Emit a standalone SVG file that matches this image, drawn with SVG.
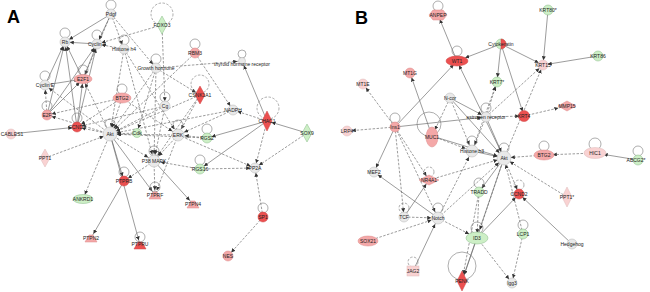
<svg xmlns="http://www.w3.org/2000/svg" width="650" height="292" viewBox="0 0 650 292">
<style>
.s{stroke:#666;stroke-width:.65;fill:none}
.d{stroke:#666;stroke-width:.65;fill:none;stroke-dasharray:2.5 1.5}
.lp{fill:none;stroke:#777;stroke-width:.6}
.lpd{fill:none;stroke:#777;stroke-width:.6;stroke-dasharray:2.5 1.5}
.g{fill:#e9e9e9;stroke:#b5b5b5;stroke-width:.5}
.p{fill:#f4a8a8;stroke:#d88;stroke-width:.5}
.lk{fill:#f9d2d2;stroke:#dbb;stroke-width:.5}
.r{fill:#ec5050;stroke:#c44;stroke-width:.5}
.gr{fill:#cdefc6;stroke:#8b8;stroke-width:.5}
text{font-family:"Liberation Sans",Arial,sans-serif;font-size:5px;fill:#222;text-anchor:middle}
.big{font-size:18px;font-weight:bold;text-anchor:start;fill:#000}
</style>
<defs>
<marker id="ar" viewBox="0 0 10 10" refX="22" refY="5" markerWidth="4" markerHeight="4" markerUnits="userSpaceOnUse" orient="auto"><path d="M0,0L10,5L0,10z" fill="#333"/></marker>
<marker id="arb" viewBox="0 0 10 10" refX="27" refY="5" markerWidth="4" markerHeight="4" markerUnits="userSpaceOnUse" orient="auto"><path d="M0,0L10,5L0,10z" fill="#333"/></marker>
<marker id="arw" viewBox="0 0 10 10" refX="32" refY="5" markerWidth="4" markerHeight="4" markerUnits="userSpaceOnUse" orient="auto"><path d="M0,0L10,5L0,10z" fill="#333"/></marker>
</defs>
<rect width="650" height="292" fill="#fff"/>
<text class="big" x="7" y="23">A</text>
<text class="big" x="355" y="24">B</text>
<g id="connectors">
<line class="s" x1="111" y1="14" x2="65" y2="42" marker-end="url(#ar)"/>
<line class="d" x1="111" y1="14" x2="124" y2="49" marker-end="url(#ar)"/>
<line class="d" x1="111" y1="14" x2="156" y2="68" marker-end="url(#ar)"/>
<line class="d" x1="111" y1="14" x2="83" y2="79" marker-end="url(#ar)"/>
<line class="s" x1="111" y1="14" x2="97" y2="44" marker-end="url(#ar)"/>
<line class="d" x1="162" y1="25" x2="97" y2="44" marker-end="url(#ar)"/>
<line class="d" x1="162" y1="25" x2="165" y2="106" marker-end="url(#ar)"/>
<line class="s" x1="97" y1="44" x2="65" y2="42" marker-end="url(#ar)"/>
<line class="d" x1="124" y1="49" x2="97" y2="44" marker-end="url(#ar)"/>
<line class="d" x1="124" y1="49" x2="110" y2="134" marker-end="url(#arb)"/>
<line class="d" x1="124" y1="49" x2="154" y2="161" marker-end="url(#arb)"/>
<line class="d" x1="124" y1="49" x2="178" y2="135" marker-end="url(#arb)"/>
<line class="d" x1="156" y1="68" x2="110" y2="134" marker-end="url(#arb)"/>
<line class="d" x1="156" y1="68" x2="242" y2="61" marker-end="url(#ar)"/>
<line class="d" x1="156" y1="68" x2="154" y2="161" marker-end="url(#arb)"/>
<line class="d" x1="156" y1="68" x2="200" y2="95" marker-end="url(#ar)"/>
<line class="d" x1="156" y1="68" x2="137" y2="133" marker-end="url(#ar)"/>
<line class="d" x1="195" y1="53" x2="233" y2="110" marker-end="url(#ar)"/>
<line class="d" x1="195" y1="53" x2="110" y2="134" marker-end="url(#arb)"/>
<line class="s" x1="83" y1="79" x2="65" y2="42" marker-end="url(#ar)"/>
<line class="s" x1="83" y1="79" x2="97" y2="44" marker-end="url(#ar)"/>
<line class="s" x1="45" y1="85" x2="65" y2="42" marker-end="url(#ar)"/>
<line class="s" x1="45" y1="85" x2="83" y2="79" marker-end="url(#ar)"/>
<line class="s" x1="47" y1="115" x2="65" y2="42" marker-end="url(#ar)"/>
<line class="s" x1="47" y1="115" x2="97" y2="44" marker-end="url(#ar)"/>
<line class="d" x1="47" y1="115" x2="45" y2="85" marker-end="url(#ar)"/>
<line class="s" x1="77" y1="127" x2="65" y2="42" marker-end="url(#ar)"/>
<line class="s" x1="77" y1="127" x2="97" y2="44" marker-end="url(#ar)"/>
<line class="s" x1="77" y1="127" x2="83" y2="79" marker-end="url(#ar)"/>
<line class="s" x1="47" y1="115" x2="83" y2="79" marker-end="url(#ar)"/>
<line class="s" x1="11" y1="134" x2="77" y2="127" marker-end="url(#ar)"/>
<line class="d" x1="110" y1="134" x2="77" y2="127" marker-end="url(#ar)"/>
<line class="d" x1="110" y1="134" x2="47" y2="115" marker-end="url(#ar)"/>
<line class="d" x1="110" y1="134" x2="83" y2="79" marker-end="url(#ar)"/>
<line class="d" x1="110" y1="134" x2="45" y2="85" marker-end="url(#ar)"/>
<line class="d" x1="122" y1="98" x2="110" y2="134" marker-end="url(#arb)"/>
<line class="d" x1="122" y1="98" x2="47" y2="115" marker-end="url(#ar)"/>
<line class="d" x1="122" y1="98" x2="77" y2="127" marker-end="url(#ar)"/>
<line class="d" x1="122" y1="98" x2="178" y2="135" marker-end="url(#arb)"/>
<line class="d" x1="165" y1="106" x2="110" y2="134" marker-end="url(#arb)"/>
<line class="d" x1="165" y1="106" x2="77" y2="127" marker-end="url(#ar)"/>
<line class="d" x1="165" y1="106" x2="154" y2="161" marker-end="url(#arb)"/>
<line class="d" x1="200" y1="95" x2="110" y2="134" marker-end="url(#arb)"/>
<line class="d" x1="200" y1="95" x2="178" y2="135" marker-end="url(#arb)"/>
<line class="d" x1="200" y1="95" x2="154" y2="161" marker-end="url(#arb)"/>
<line class="d" x1="233" y1="110" x2="110" y2="134" marker-end="url(#arb)"/>
<line class="d" x1="233" y1="110" x2="178" y2="135" marker-end="url(#arb)"/>
<line class="s" x1="267" y1="121" x2="242" y2="61" marker-end="url(#ar)"/>
<line class="d" x1="267" y1="121" x2="233" y2="110" marker-end="url(#ar)"/>
<line class="s" x1="307" y1="133" x2="267" y2="121" marker-end="url(#ar)"/>
<line class="s" x1="267" y1="121" x2="207" y2="138" marker-end="url(#ar)"/>
<line class="s" x1="267" y1="121" x2="200" y2="169" marker-end="url(#ar)"/>
<line class="d" x1="307" y1="133" x2="255" y2="168" marker-end="url(#ar)"/>
<line class="d" x1="267" y1="121" x2="255" y2="168" marker-end="url(#ar)"/>
<line class="d" x1="263" y1="217" x2="255" y2="168" marker-end="url(#ar)"/>
<line class="d" x1="263" y1="217" x2="228" y2="256" marker-end="url(#ar)"/>
<line class="d" x1="200" y1="169" x2="255" y2="168" marker-end="url(#ar)"/>
<line class="d" x1="178" y1="135" x2="255" y2="168" marker-end="url(#ar)"/>
<line class="d" x1="178" y1="135" x2="110" y2="134" marker-end="url(#arb)"/>
<line class="d" x1="137" y1="133" x2="110" y2="134" marker-end="url(#arb)"/>
<line class="d" x1="178" y1="135" x2="154" y2="161" marker-end="url(#arb)"/>
<line class="d" x1="110" y1="134" x2="154" y2="161" marker-end="url(#arb)"/>
<line class="d" x1="154" y1="161" x2="124" y2="181" marker-end="url(#ar)"/>
<line class="s" x1="110" y1="134" x2="124" y2="181" marker-end="url(#ar)"/>
<line class="s" x1="110" y1="134" x2="140" y2="245" marker-end="url(#ar)"/>
<line class="s" x1="124" y1="181" x2="91" y2="238" marker-end="url(#ar)"/>
<line class="s" x1="154" y1="161" x2="193" y2="204" marker-end="url(#ar)"/>
<line class="d" x1="178" y1="135" x2="155" y2="195" marker-end="url(#ar)"/>
<line class="d" x1="154" y1="161" x2="155" y2="195" marker-end="url(#ar)"/>
<line class="s" x1="110" y1="134" x2="155" y2="195" marker-end="url(#ar)"/>
<line class="d" x1="110" y1="134" x2="83" y2="199" marker-end="url(#ar)"/>
<line class="d" x1="45" y1="158" x2="110" y2="134" marker-end="url(#arb)"/>
<line class="d" x1="207" y1="138" x2="178" y2="135" marker-end="url(#arb)"/>
<line class="d" x1="200" y1="169" x2="154" y2="161" marker-end="url(#arb)"/>
<line class="d" x1="207" y1="138" x2="110" y2="134" marker-end="url(#arb)"/>
<line class="s" x1="457" y1="61" x2="438" y2="15" marker-end="url(#ar)"/>
<line class="s" x1="501" y1="44" x2="457" y2="61" marker-end="url(#arw)"/>
<line class="s" x1="501" y1="44" x2="497" y2="82" marker-end="url(#ar)"/>
<line class="s" x1="501" y1="44" x2="543" y2="65" marker-end="url(#ar)"/>
<line class="s" x1="501" y1="44" x2="524" y2="116" marker-end="url(#ar)"/>
<line class="s" x1="548" y1="10" x2="543" y2="65" marker-end="url(#ar)"/>
<line class="s" x1="598" y1="56" x2="543" y2="65" marker-end="url(#ar)"/>
<line class="s" x1="395" y1="127" x2="457" y2="61" marker-end="url(#ar)"/>
<line class="d" x1="395" y1="127" x2="363" y2="84" marker-end="url(#ar)"/>
<line class="d" x1="395" y1="127" x2="347" y2="131" marker-end="url(#ar)"/>
<line class="s" x1="432" y1="136" x2="410" y2="73" marker-end="url(#ar)"/>
<line class="s" x1="395" y1="127" x2="486" y2="117" marker-end="url(#ar)"/>
<line class="s" x1="504" y1="158" x2="457" y2="61" marker-end="url(#ar)"/>
<line class="s" x1="450" y1="98" x2="486" y2="117" marker-end="url(#ar)"/>
<line class="d" x1="450" y1="98" x2="472" y2="151" marker-end="url(#arb)"/>
<line class="s" x1="450" y1="98" x2="504" y2="158" marker-end="url(#arb)"/>
<line class="d" x1="486" y1="117" x2="524" y2="116" marker-end="url(#ar)"/>
<line class="d" x1="486" y1="117" x2="543" y2="65" marker-end="url(#ar)"/>
<line class="d" x1="486" y1="117" x2="497" y2="82" marker-end="url(#ar)"/>
<line class="d" x1="524" y1="116" x2="567" y2="106" marker-end="url(#arw)"/>
<line class="d" x1="504" y1="158" x2="543" y2="65" marker-end="url(#ar)"/>
<line class="d" x1="472" y1="151" x2="497" y2="82" marker-end="url(#ar)"/>
<line class="d" x1="544" y1="155" x2="504" y2="158" marker-end="url(#arb)"/>
<line class="d" x1="595" y1="153" x2="544" y2="155" marker-end="url(#arw)"/>
<line class="s" x1="638" y1="160" x2="595" y2="153" marker-end="url(#arw)"/>
<line class="d" x1="567" y1="197" x2="504" y2="158" marker-end="url(#arb)"/>
<line class="s" x1="572" y1="244" x2="519" y2="194" marker-end="url(#ar)"/>
<line class="d" x1="504" y1="158" x2="519" y2="194" marker-end="url(#ar)"/>
<line class="d" x1="523" y1="234" x2="512" y2="283" marker-end="url(#ar)"/>
<line class="d" x1="523" y1="234" x2="504" y2="158" marker-end="url(#arb)"/>
<line class="s" x1="477" y1="238" x2="519" y2="194" marker-end="url(#ar)"/>
<line class="d" x1="477" y1="238" x2="512" y2="283" marker-end="url(#ar)"/>
<line class="s" x1="504" y1="158" x2="479" y2="192" marker-end="url(#ar)"/>
<line class="d" x1="479" y1="192" x2="477" y2="238" marker-end="url(#ar)"/>
<line class="d" x1="479" y1="192" x2="462" y2="281" marker-end="url(#arb)"/>
<line class="s" x1="477" y1="238" x2="462" y2="281" marker-end="url(#arb)"/>
<line class="d" x1="438" y1="218" x2="477" y2="238" marker-end="url(#arw)"/>
<line class="d" x1="438" y1="218" x2="472" y2="151" marker-end="url(#arb)"/>
<line class="d" x1="404" y1="217" x2="438" y2="218" marker-end="url(#arb)"/>
<line class="d" x1="368" y1="241" x2="438" y2="218" marker-end="url(#arb)"/>
<line class="s" x1="413" y1="271" x2="438" y2="218" marker-end="url(#arb)"/>
<line class="s" x1="438" y1="218" x2="374" y2="172" marker-end="url(#ar)"/>
<line class="s" x1="404" y1="217" x2="429" y2="180" marker-end="url(#ar)"/>
<line class="d" x1="429" y1="180" x2="504" y2="158" marker-end="url(#arb)"/>
<line class="d" x1="395" y1="127" x2="404" y2="217" marker-end="url(#ar)"/>
<line class="d" x1="395" y1="127" x2="438" y2="218" marker-end="url(#arb)"/>
<line class="s" x1="395" y1="127" x2="374" y2="172" marker-end="url(#ar)"/>
<line class="d" x1="395" y1="127" x2="429" y2="180" marker-end="url(#ar)"/>
<line class="d" x1="432" y1="136" x2="472" y2="151" marker-end="url(#arb)"/>
<line class="s" x1="432" y1="136" x2="504" y2="158" marker-end="url(#arb)"/>
<line class="d" x1="450" y1="98" x2="432" y2="136" marker-end="url(#arb)"/>
<line class="s" x1="472" y1="151" x2="504" y2="158" marker-end="url(#arb)"/>
<line class="s" x1="486" y1="117" x2="504" y2="158" marker-end="url(#arb)"/>
<line class="d" x1="438" y1="218" x2="504" y2="158" marker-end="url(#arb)"/>
<line class="d" x1="486" y1="117" x2="472" y2="151" marker-end="url(#arb)"/>
<line class="s" x1="504" y1="158" x2="462" y2="281" marker-end="url(#arb)"/>
<line class="d" x1="504" y1="158" x2="477" y2="238" marker-end="url(#arw)"/>
</g>
<g id="a_top"><circle class="lp" cx="111" cy="5" r="5"/><circle class="g" cx="111" cy="14" r="5"/><text x="111" y="15.8">Pdgf</text></g>
<g id="a_rb"><circle class="lp" cx="65" cy="33" r="5"/><circle class="g" cx="65" cy="42" r="5"/><text x="65" y="43.8">Rb</text></g>
<g id="a_cyca"><circle class="lp" cx="97" cy="35" r="5"/><circle class="g" cx="97" cy="44" r="5"/><text x="97" y="45.8">Cyclin A</text></g>
<g id="a_h4"><circle class="lp" cx="124" cy="40" r="5"/><circle class="g" cx="124" cy="49" r="5"/><text x="124" y="50.8">Histone h4</text></g>
<g id="a_foxo"><circle class="lpd" cx="162" cy="14" r="11"/><polygon class="gr" points="162,16 167,25 162,34 157,25"/><text x="162" y="26.8">FOXO3</text></g>
<g id="a_gh"><circle class="lp" cx="156" cy="59" r="5"/><circle class="g" cx="156" cy="68" r="5"/><text x="156" y="69.8">Growth hormone</text></g>
<g id="a_rbm"><circle class="lp" cx="195" cy="44" r="5"/><circle class="p" cx="195" cy="53" r="5"/><text x="195" y="54.8">RBM3</text></g>
<g id="a_thr"><circle class="lp" cx="242" cy="54" r="4"/><circle class="g" cx="242" cy="61" r="3.5"/><text x="242" y="65.5">thyroid hormone receptor</text></g>
<g id="a_e2f1"><circle class="lp" cx="83" cy="70" r="5"/><ellipse class="p" cx="83" cy="79" rx="9" ry="4.5"/><text x="83" y="80.8">E2F1</text></g>
<g id="a_cyce"><circle class="lp" cx="45" cy="76" r="5"/><circle class="g" cx="45" cy="85" r="5"/><text x="45" y="86.8">Cyclin E</text></g>
<g id="a_e2f"><circle class="lp" cx="47" cy="106" r="5"/><circle class="p" cx="47" cy="115" r="5"/><text x="47" y="116.8">E2F</text></g>
<g id="a_btg2"><circle class="lp" cx="122" cy="89" r="5"/><ellipse class="p" cx="122" cy="98" rx="9" ry="5"/><text x="122" y="99.8">BTG2</text></g>
<g id="a_ccnd1"><circle class="lp" cx="77" cy="118" r="5"/><circle class="r" cx="77" cy="127" r="5"/><text x="77" y="128.8">CCND1</text></g>
<g id="a_cables"><circle class="lk" cx="11" cy="134" r="5"/><text x="12" y="135.8">CABLES1</text></g>
<g id="a_akt"><circle class="lp" cx="110" cy="124" r="5"/><circle class="g" cx="110" cy="134" r="7"/><text x="110" y="135.8">Akt</text></g>
<g id="a_green1"><circle class="gr" cx="137" cy="133" r="4.5"/><text x="137" y="134.8">Cdk</text></g>
<g id="a_cg"><circle class="lp" cx="165" cy="97" r="5"/><circle class="g" cx="165" cy="106" r="5"/><text x="165" y="107.8">Cg</text></g>
<g id="a_cdk"><circle class="lpd" cx="200" cy="84" r="9"/><polygon class="r" points="200,86 205,95 200,104 195,95"/><text x="200" y="96.8">CSNK1A1</text></g>
<g id="a_nadph"><circle class="g" cx="233" cy="110" r="5"/><text x="233" y="111.8">NADPH</text></g>
<g id="a_chac"><circle class="lpd" cx="268" cy="108" r="11"/><polygon class="r" points="267,111 272,121 267,131 262,121"/><text x="267" y="122.8">CHAC1</text></g>
<g id="a_sox9"><polygon class="gr" points="307,124 312,133 307,142 302,133"/><text x="307" y="134.8">SOX9</text></g>
<g id="a_erk"><circle class="lp" cx="178" cy="125" r="5"/><circle class="g" cx="178" cy="135" r="6"/><text x="178" y="136.8">ERK</text></g>
<g id="a_rgs"><circle class="lp" cx="207" cy="129" r="5"/><circle class="gr" cx="207" cy="138" r="5"/><text x="207" y="139.8">RGS2</text></g>
<g id="a_p38"><circle class="lp" cx="154" cy="151" r="5"/><circle class="g" cx="154" cy="161" r="6"/><text x="154" y="162.8">P38 MAPK</text></g>
<g id="a_rgs16"><circle class="lp" cx="200" cy="160" r="5"/><circle class="gr" cx="200" cy="169" r="5"/><text x="200" y="170.8">RGS16</text></g>
<g id="a_ptase"><circle class="g" cx="255" cy="168" r="5"/><text x="255" y="169.8">PP2A</text></g>
<g id="a_ptpr"><circle class="lp" cx="124" cy="172" r="5"/><circle class="r" cx="124" cy="181" r="5"/><text x="124" y="182.8">PTPRB</text></g>
<g id="a_tri1"><circle class="lp" cx="155" cy="187" r="5"/><polygon class="p" points="149,199 161,199 157,192 153,192"/><text x="155" y="197">PTPRF</text></g>
<g id="a_prkaa"><polygon class="p" points="187,208 199,208 195,201 191,201"/><text x="193" y="206">PTPN4</text></g>
<g id="a_sp1"><circle class="lp" cx="263" cy="208" r="5"/><circle class="r" cx="263" cy="217" r="5"/><text x="263" y="218.8">SP1</text></g>
<g id="a_nes"><circle class="p" cx="228" cy="256" r="5"/><text x="228" y="257.8">NES</text></g>
<g id="a_ppt1"><polygon class="lk" points="45,149 50,158 45,167 40,158"/><text x="45" y="159.8">PPT1</text></g>
<g id="a_ankrd"><ellipse class="gr" cx="83" cy="199" rx="10" ry="4.5"/><text x="83" y="200.8">ANKRD1</text></g>
<g id="a_ptpn2"><polygon class="p" points="85,242 97,242 93,235 89,235"/><text x="91" y="240">PTPN2</text></g>
<g id="a_ptpru"><circle class="lp" cx="140" cy="237" r="5"/><polygon class="r" points="134,249 146,249 142,242 138,242"/><text x="140" y="246">PTPRU</text></g>
<g id="b_anpep"><circle class="lp" cx="438" cy="6" r="5"/><polygon class="p" points="429,15 433,10 443,10 447,15 443,20 433,20"/><text x="438" y="16.8">ANPEP</text></g>
<g id="b_wt1"><circle class="lp" cx="457" cy="51" r="5"/><ellipse class="r" cx="457" cy="61" rx="11" ry="5"/><text x="457" y="62.8">WT1</text></g>
<g id="b_mt1g"><circle class="p" cx="410" cy="73" r="5"/><text x="410" y="74.8">MT1G</text></g>
<g id="b_mt1e"><circle class="lk" cx="363" cy="84" r="5"/><text x="363" y="85.8">MT1E</text></g>
<g id="b_lrp"><circle class="lk" cx="347" cy="131" r="5"/><text x="347" y="132.8">LRP4</text></g>
<g id="b_ins"><circle class="lp" cx="395" cy="118" r="5"/><circle class="p" cx="395" cy="127" r="5"/><text x="395" y="128.8">Ins1</text></g>
<g id="b_ncor"><circle class="g" cx="450" cy="98" r="5"/><text x="450" y="99.8">N-cor</text></g>
<g id="b_muc"><circle class="lp" cx="429" cy="124" r="12"/><ellipse class="p" cx="432" cy="137" rx="6" ry="10"/><text x="432" y="138.8">MUC1</text></g>
<g id="b_er"><circle class="lp" cx="486" cy="108" r="5"/><circle class="g" cx="486" cy="117" r="5"/><text x="486" y="118.8">estrogen receptor</text></g>
<g id="b_ck"><circle class="gr" cx="501" cy="44" r="5"/><path class="r" d="M501,39A5,5 0 0 1 501,49z"/><text x="501" y="45.8">Cytokeratin</text></g>
<g id="b_krt80"><circle class="gr" cx="548" cy="10" r="5"/><text x="548" y="11.8">KRT80*</text></g>
<g id="b_krt15"><circle class="lk" cx="543" cy="65" r="5"/><text x="543" y="66.8">KRT15</text></g>
<g id="b_krt86"><circle class="gr" cx="598" cy="56" r="5"/><text x="598" y="57.8">KRT86</text></g>
<g id="b_krt7"><circle class="gr" cx="497" cy="82" r="5"/><text x="497" y="83.8">KRT7*</text></g>
<g id="b_krt4"><circle class="r" cx="524" cy="116" r="5.5"/><text x="524" y="117.8">KRT4</text></g>
<g id="b_mmp"><polygon class="p" points="558,106 567,101 576,106 567,111"/><text x="567" y="107.8">MMP15</text></g>
<g id="b_hist"><circle class="lp" cx="472" cy="141" r="5"/><circle class="g" cx="472" cy="151" r="6"/><text x="472" y="152.8">Histone h3</text></g>
<g id="b_akt"><circle class="lp" cx="504" cy="148" r="5"/><circle class="g" cx="504" cy="158" r="7"/><text x="504" y="159.8">Akt</text></g>
<g id="b_btg2"><circle class="lp" cx="544" cy="146" r="5"/><ellipse class="p" cx="544" cy="155" rx="10" ry="5"/><text x="544" y="156.8">BTG2</text></g>
<g id="b_hic1"><circle class="lp" cx="595" cy="144" r="6"/><ellipse class="lk" cx="595" cy="153" rx="11" ry="5.5"/><text x="595" y="154.8">HIC1</text></g>
<g id="b_abc"><circle class="lp" cx="638" cy="151" r="5"/><circle class="gr" cx="638" cy="160" r="5"/><text x="636" y="161.8">ABCG2*</text></g>
<g id="b_nr4a"><circle class="lpd" cx="429" cy="172" r="5"/><polygon class="p" points="419,180 429,175 439,180 429,185"/><text x="429" y="181.8">NR4A1</text></g>
<g id="b_mef2"><circle class="g" cx="374" cy="172" r="5"/><text x="374" y="173.8">MEF2</text></g>
<g id="b_tcf"><circle class="lpd" cx="404" cy="208" r="5"/><circle class="g" cx="404" cy="217" r="5"/><text x="404" y="218.8">TCF</text></g>
<g id="b_notch"><circle class="lp" cx="438" cy="208" r="5"/><circle class="g" cx="438" cy="218" r="6"/><text x="438" y="219.8">Notch</text></g>
<g id="b_tradd"><circle class="lp" cx="479" cy="183" r="5"/><circle class="gr" cx="479" cy="192" r="5"/><text x="479" y="193.8">TRADD</text></g>
<g id="b_id3"><circle class="lp" cx="477" cy="228" r="6"/><ellipse class="gr" cx="477" cy="238" rx="11" ry="6"/><text x="477" y="239.8">ID3</text></g>
<g id="b_sox21"><ellipse class="p" cx="368" cy="241" rx="10" ry="5"/><text x="368" y="242.8">SOX21</text></g>
<g id="b_jag2"><circle class="lpd" cx="413" cy="262" r="5"/><rect class="lk" x="407" y="266" width="12" height="10"/><text x="413" y="272.8">JAG2</text></g>
<g id="b_penk"><circle class="lp" cx="462" cy="266" r="14"/><polygon class="r" points="462,271 467,281 462,291 457,281"/><text x="462" y="282.8">PENK</text></g>
<g id="b_ccnd"><circle class="lpd" cx="519" cy="185" r="5"/><circle class="r" cx="519" cy="194" r="5"/><text x="519" y="195.8">CCND2</text></g>
<g id="b_ppt1"><polygon class="lk" points="567,187 572,197 567,207 562,197"/><text x="567" y="198.8">PPT1*</text></g>
<g id="b_lcp"><circle class="lp" cx="523" cy="225" r="5"/><circle class="gr" cx="523" cy="234" r="5"/><text x="523" y="235.8">LCP1</text></g>
<g id="b_hh"><circle class="g" cx="572" cy="244" r="5"/><text x="572" y="245.8">Hedgehog</text></g>
<g id="b_igg3"><circle class="g" cx="512" cy="283" r="5"/><text x="512" y="284.8">Igg3</text></g>
</svg>
